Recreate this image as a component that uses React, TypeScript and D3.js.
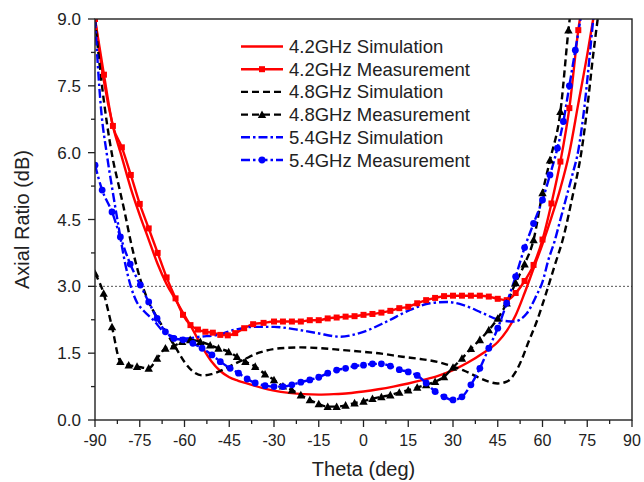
import React from "react";
import * as d3 from "d3";

// ---------- data ----------
const sim42Theta = [-90,-87,-84,-81,-78,-75,-72,-69,-66,-63,-60,-57,-54,-51,-48,-45,-42,-38,-34,-30,-25,-20,-15,-10,-5,0,5,10,15,20,25,30,35,40,45,48,51,54,57,60,63,66,69,72,75,77];
const sim42AR = [9.0,7.6,6.6,5.9,5.2,4.6,4.05,3.5,3.05,2.7,2.35,2.0,1.63,1.32,1.1,0.96,0.88,0.8,0.72,0.66,0.61,0.58,0.57,0.58,0.6,0.64,0.69,0.75,0.82,0.9,0.99,1.12,1.29,1.5,1.75,2.0,2.35,2.85,3.4,3.95,4.55,5.2,6.0,7.1,8.2,9.0];

const meas42Theta = [-90,-87,-84,-81,-78,-75,-72,-69,-66,-63,-60.5,-58,-55.5,-53,-50.5,-48,-45.5,-43,-40,-37,-33.5,-30,-27,-24,-21,-18,-15,-12,-9,-6,-3,0,3,6,9,12,15,18,21,24,27,30,33,36,39,42,45,48,51,54,57,60,63,66,69,72,74.5];
const meas42AR = [9.0,7.75,6.6,6.12,5.5,4.85,4.3,3.75,3.2,2.73,2.36,2.13,2.03,1.98,1.96,1.91,1.9,1.95,2.06,2.15,2.18,2.21,2.21,2.21,2.21,2.24,2.24,2.28,2.3,2.32,2.33,2.36,2.38,2.41,2.45,2.51,2.54,2.62,2.69,2.74,2.78,2.79,2.79,2.79,2.79,2.77,2.72,2.69,2.85,3.12,3.48,4.05,4.86,5.8,7.0,8.75,9.8];

const sim48Theta = [-90,-88,-86,-84,-82,-80,-78,-75,-72,-69,-66,-63,-60,-57,-54,-51,-48,-45,-40,-35,-28,-21,-14,-7,0,6,13,19,25,30,34,39,42,45,48,51,53,55,58,61,64,67,70,73,75,77,78.5];
const sim48AR = [9.0,7.7,6.66,5.85,5.25,4.65,4.0,3.2,2.65,2.28,1.95,1.63,1.3,1.08,1.0,1.03,1.1,1.2,1.36,1.51,1.61,1.63,1.61,1.57,1.53,1.49,1.42,1.37,1.3,1.2,1.1,0.94,0.86,0.82,0.86,1.08,1.35,1.7,2.2,2.8,3.45,4.1,5.0,6.0,7.0,8.2,9.0];

const meas48Theta = [-90,-87.1,-84.3,-81.5,-78.7,-75.9,-72,-69.2,-66.4,-63.6,-60.8,-58.1,-54.7,-51.4,-48.6,-45.2,-42.4,-39.6,-36.3,-33,-30,-27,-24,-21,-18,-15,-12,-9,-6,-3,0,3,6,9,12,15,18,21,24,27,30,33,36,39,42,45,48,51,54,57,60,62.5,66,68.7,71];
const meas48AR = [3.29,2.84,2.09,1.31,1.23,1.2,1.16,1.38,1.61,1.66,1.76,1.8,1.76,1.68,1.61,1.53,1.42,1.31,1.2,1.03,0.9,0.76,0.67,0.56,0.45,0.36,0.3,0.3,0.33,0.38,0.42,0.48,0.52,0.56,0.62,0.67,0.73,0.79,0.86,0.97,1.18,1.38,1.6,1.8,2.02,2.28,2.62,3.08,3.5,4.04,5.1,5.83,6.92,8.75,10.0];

const sim54Theta = [-90,-88,-86,-84,-82,-80,-78,-76,-73.7,-70.4,-67,-63.6,-59.2,-54.7,-49,-43.5,-36.8,-30,-23.4,-15.6,-7.8,0,7.8,15.6,22.3,27.9,33.5,40.2,45.8,50.3,54.7,58,60,62,64,66,68,70,72,74,76,77];
const sim54AR = [9.0,7.0,5.95,5.1,4.3,3.55,3.0,2.65,2.45,2.24,1.98,1.87,1.83,1.87,1.91,2.02,2.09,2.09,2.04,1.95,1.87,1.98,2.21,2.47,2.62,2.65,2.58,2.39,2.24,2.21,2.39,2.8,3.1,3.6,4.0,4.5,5.0,5.5,6.05,7.0,8.3,9.0];

const meas54Theta = [-90,-87.6,-84.3,-81.5,-78.2,-74.8,-72,-69.2,-66.4,-63.6,-60.5,-57.2,-54.1,-50.8,-48,-44.7,-41.9,-39,-36.3,-33,-30,-27,-24,-21,-18,-15,-12,-9,-6,-3,0,3,6,9,12,15,18,21,24,27,30,33,36,39,42,45,48,51,54,57,60,62.5,65,67,69,71,73];
const meas54AR = [5.72,5.16,4.67,4.11,3.5,3.03,2.65,2.28,1.98,1.83,1.8,1.72,1.61,1.46,1.31,1.16,1.05,0.92,0.83,0.77,0.75,0.75,0.79,0.85,0.9,0.96,1.05,1.12,1.16,1.21,1.23,1.26,1.26,1.21,1.13,1.08,1.0,0.83,0.64,0.52,0.45,0.52,0.79,1.16,1.61,2.06,2.62,3.22,3.87,4.41,4.94,5.5,6.1,6.7,7.5,8.3,9.1];

const xTicks = [-90,-75,-60,-45,-30,-15,0,15,30,45,60,75,90];
const yTicks = [0,1.5,3,4.5,6,7.5,9];
const legendLabels = [
  "4.2GHz Simulation",
  "4.2GHz Measurement",
  "4.8GHz Simulation",
  "4.8GHz Measurement",
  "5.4GHz Simulation",
  "5.4GHz Measurement",
];

// ---------- layout ----------
const W = 644, H = 482;
const L = 95, R = 632, T = 19, B = 420;
const FONT = "Arial, 'Liberation Sans', sans-serif";

type Series = {
  xs: number[]; ys: number[]; color: string; dash?: string; marker?: "square" | "triangle" | "circle";
};

const series: Series[] = [
  { xs: sim42Theta, ys: sim42AR, color: "#ff0000" },
  { xs: meas42Theta, ys: meas42AR, color: "#ff0000", marker: "square" },
  { xs: sim48Theta, ys: sim48AR, color: "#000000", dash: "7,4" },
  { xs: meas48Theta, ys: meas48AR, color: "#000000", dash: "7,4", marker: "triangle" },
  { xs: sim54Theta, ys: sim54AR, color: "#0000ff", dash: "9,3,2.5,3" },
  { xs: meas54Theta, ys: meas54AR, color: "#0000ff", dash: "9,3,2.5,3", marker: "circle" },
];

function Marker({ kind, x, y, color }: { kind: string; x: number; y: number; color: string }) {
  if (kind === "square") return <rect x={x - 3} y={y - 3} width={6} height={6} fill={color} />;
  if (kind === "triangle") {
    const s = 4.2;
    return <path d={`M${x},${y - s}L${x + s},${y + s * 0.8}L${x - s},${y + s * 0.8}Z`} fill={color} />;
  }
  return <circle cx={x} cy={y} r={3.4} fill={color} />;
}

export default function App() {
  const x = d3.scaleLinear().domain([-90, 90]).range([L, R]);
  const y = d3.scaleLinear().domain([0, 9]).range([B, T]);
  const xMinor = d3.range(-82.5, 90, 15);
  const yMinor = d3.range(0.75, 9, 1.5);

  const lineFor = (s: Series) =>
    d3.line<number>()
      .x((_, i) => x(s.xs[i]))
      .y((d) => y(d))
      .curve(d3.curveMonotoneX)(s.ys) || "";

  const legX0 = 241, legX1 = 283, legTx = 289, legY0 = 46.5, legDy = 22.7;

  return (
    <svg width={W} height={H} style={{ position: "absolute", left: 0, top: 0, background: "#fff" }} fontFamily={FONT}>
      <defs>
        <clipPath id="plot">
          <rect x={L} y={T} width={R - L} height={B - T} />
        </clipPath>
      </defs>
      <rect x={0} y={0} width={W} height={H} fill="#fff" />
      {/* 3 dB reference */}
      <line x1={L} x2={R} y1={y(3)} y2={y(3)} stroke="#555" strokeWidth={1} strokeDasharray="2,2" />

      <g clipPath="url(#plot)">
        {series.map((s, i) => (
          <path key={i} d={lineFor(s)} fill="none" stroke={s.color} strokeWidth={2.4}
            strokeDasharray={s.dash} />
        ))}
        {series.map((s, i) =>
          s.marker
            ? s.xs.map((t, j) => (
                <Marker key={`${i}-${j}`} kind={s.marker!} x={x(t)} y={y(s.ys[j])} color={s.color} />
              ))
            : null
        )}
      </g>

      {/* frame */}
      <rect x={L} y={T} width={R - L} height={B - T} fill="none" stroke="#222" strokeWidth={1.4} />

      {/* x ticks */}
      {xTicks.map((t) => (
        <g key={`xt${t}`}>
          <line x1={x(t)} x2={x(t)} y1={B} y2={B + 7} stroke="#222" strokeWidth={1.3} />
          <text x={x(t)} y={446} textAnchor="middle" fontSize={16} fill="#222">{t}</text>
        </g>
      ))}
      {xMinor.map((t) => (
        <line key={`xm${t}`} x1={x(t)} x2={x(t)} y1={B} y2={B + 4} stroke="#222" strokeWidth={1.3} />
      ))}
      {/* y ticks */}
      {yTicks.map((t) => (
        <g key={`yt${t}`}>
          <line x1={L - 7} x2={L} y1={y(t)} y2={y(t)} stroke="#222" strokeWidth={1.3} />
          <text x={81} y={y(t) + 6} textAnchor="end" fontSize={17} fill="#222">{t.toFixed(1)}</text>
        </g>
      ))}
      {yMinor.map((t) => (
        <line key={`ym${t}`} x1={L - 4} x2={L} y1={y(t)} y2={y(t)} stroke="#222" strokeWidth={1.3} />
      ))}

      {/* axis titles */}
      <text x={(L + R) / 2} y={476} textAnchor="middle" fontSize={20} fill="#222">Theta (deg)</text>
      <text transform={`translate(29, ${(T + B) / 2}) rotate(-90)`} textAnchor="middle" fontSize={20} fill="#222">Axial Ratio (dB)</text>

      {/* legend */}
      {series.map((s, i) => {
        const ly = legY0 + i * legDy;
        return (
          <g key={`lg${i}`}>
            <line x1={legX0} x2={legX1} y1={ly} y2={ly} stroke={s.color} strokeWidth={2.4} strokeDasharray={s.dash} />
            {s.marker && <Marker kind={s.marker} x={(legX0 + legX1) / 2} y={ly} color={s.color} />}
            <text x={legTx} y={ly + 6.5} fontSize={18.5} fill="#222">{legendLabels[i]}</text>
          </g>
        );
      })}
    </svg>
  );
}
